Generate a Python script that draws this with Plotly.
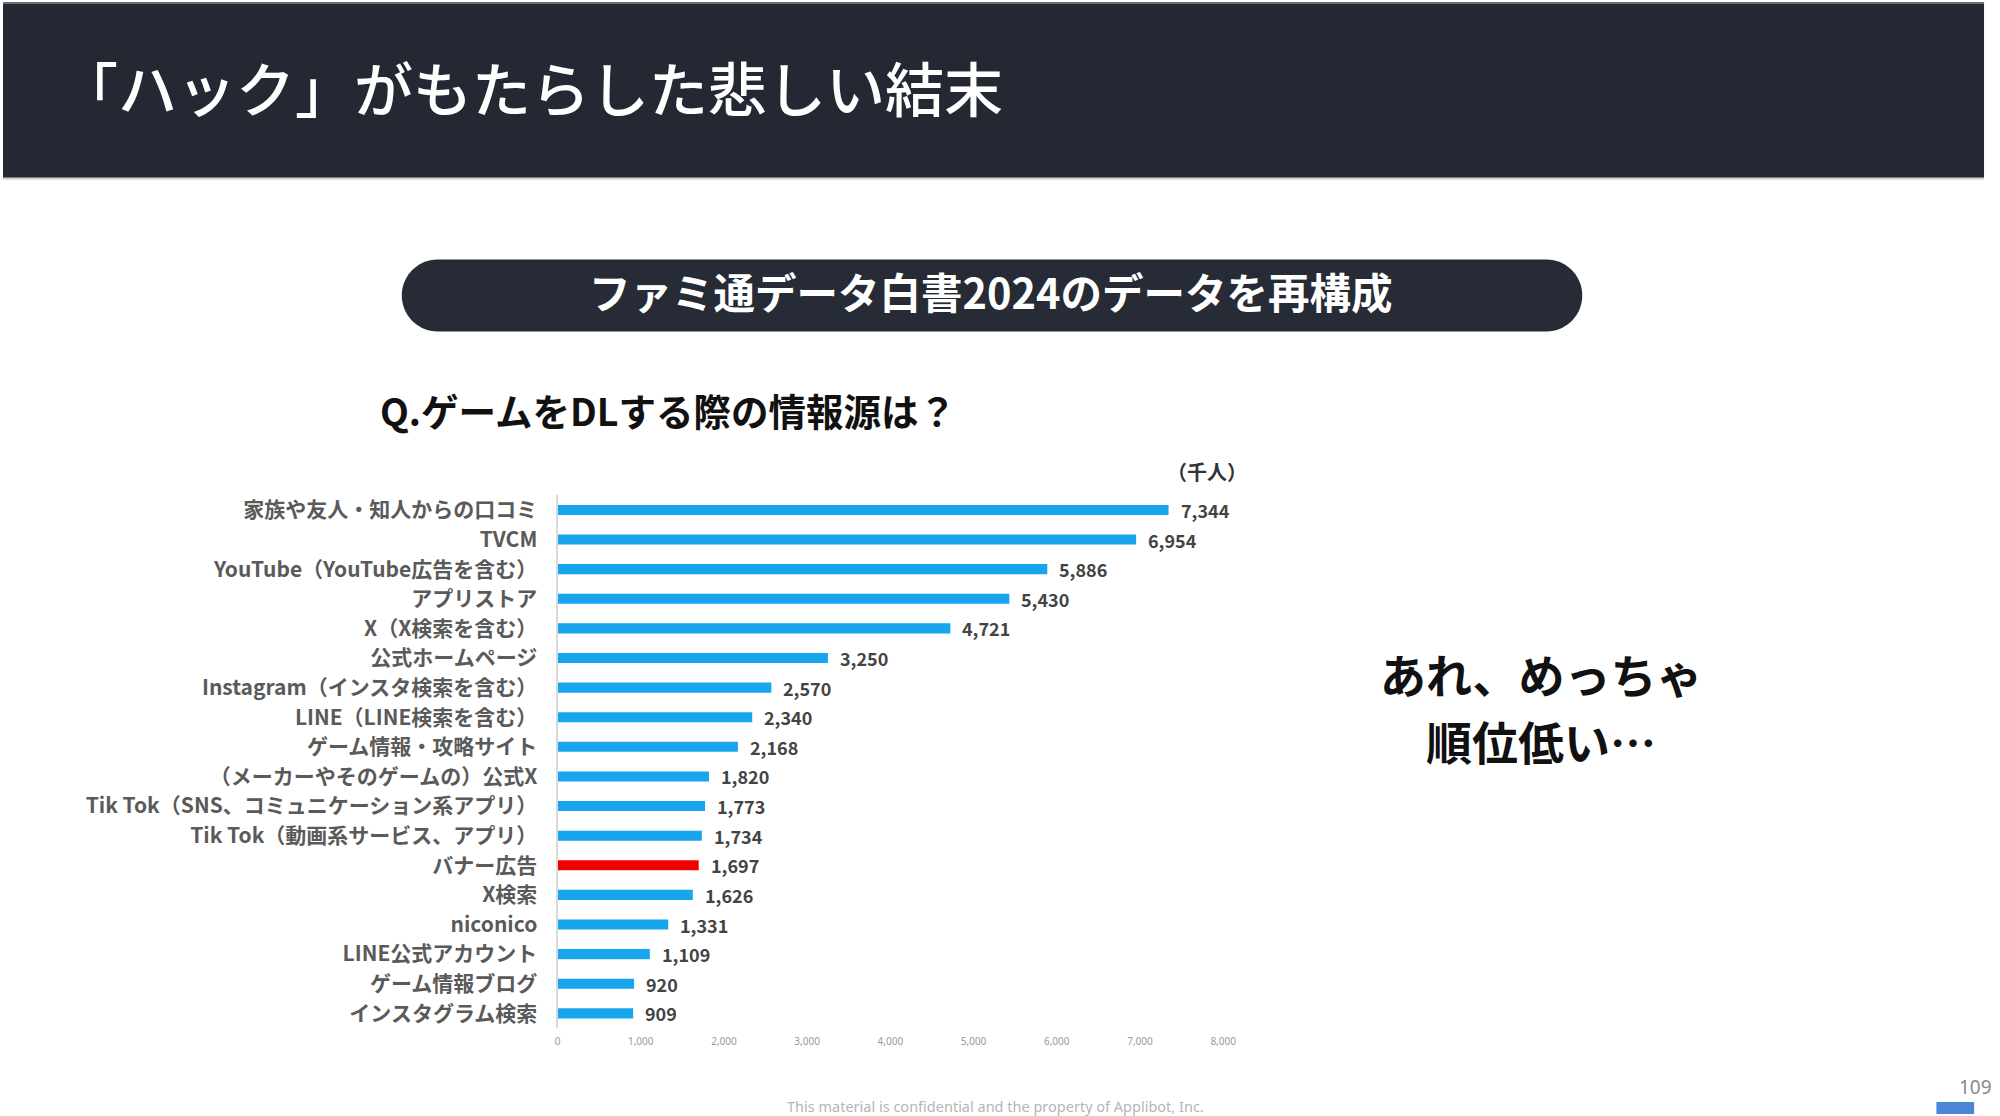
import math
import plotly.graph_objects as go

# ---------------- data ----------------
categories = [
    "家族や友人・知人からの口コミ",
    "TVCM",
    "YouTube（YouTube広告を含む）",
    "アプリストア",
    "X（X検索を含む）",
    "公式ホームページ",
    "Instagram（インスタ検索を含む）",
    "LINE（LINE検索を含む）",
    "ゲーム情報・攻略サイト",
    "（メーカーやそのゲームの）公式X",
    "Tik Tok（SNS、コミュニケーション系アプリ）",
    "Tik Tok（動画系サービス、アプリ）",
    "バナー広告",
    "X検索",
    "niconico",
    "LINE公式アカウント",
    "ゲーム情報ブログ",
    "インスタグラム検索",
]
values = [7344, 6954, 5886, 5430, 4721, 3250, 2570, 2340, 2168,
          1820, 1773, 1734, 1697, 1626, 1331, 1109, 920, 909]
highlight = "バナー広告"
x_ticks = [0, 1000, 2000, 3000, 4000, 5000, 6000, 7000, 8000]

header_title = "「ハック」がもたらした悲しい結末"
pill_title = "ファミ通データ白書2024のデータを再構成"
question = "Q.ゲームをDLする際の情報源は？"
unit_label = "（千人）"
comment_lines = ["あれ、めっちゃ", "順位低い…"]
footer = "This material is confidential and the property of Applibot, Inc."
page_no = "109"

# ---------------- style ----------------
W, H = 2000, 1116
JP = "Noto Sans CJK JP"
BLUE = "#17a6ed"
RED = "#f20000"
DARK = "#232833"


def px(x):
    return x / W


def py(y):
    return 1 - y / H


bar_colors = [RED if c == highlight else BLUE for c in categories]

fig = go.Figure()
fig.add_trace(go.Bar(
    x=values, y=categories, orientation="h",
    marker=dict(color=bar_colors, line=dict(width=0)),
    hoverinfo="skip", showlegend=False,
))

annotations = []
# value labels
for c, v in zip(categories, values):
    annotations.append(dict(
        x=v, y=c, xref="x", yref="y", text=f"{v:,}", showarrow=False,
        xanchor="left", yanchor="middle", xshift=10,
        font=dict(family=JP, size=18, color="#444444", weight="bold"),
    ))

# texts
annotations += [
    dict(x=px(54), y=py(85), xref="paper", yref="paper", text=header_title,
         showarrow=False, xanchor="left", yanchor="middle",
         font=dict(family=JP, size=59, color="white", weight=500)),
    dict(x=px(995), y=py(290), xref="paper", yref="paper", text=pill_title,
         showarrow=False, xanchor="center", yanchor="middle",
         font=dict(family=JP, size=41.5, color="white", weight="bold")),
    dict(x=px(378), y=py(408), xref="paper", yref="paper", text=question,
         showarrow=False, xanchor="left", yanchor="middle",
         font=dict(family=JP, size=37.5, color="#111111", weight="bold")),
    dict(x=px(1256), y=py(470), xref="paper", yref="paper", text=unit_label,
         showarrow=False, xanchor="right", yanchor="middle",
         font=dict(family=JP, size=20, color="#333333", weight="bold")),
    dict(x=px(1550), y=py(672), xref="paper", yref="paper", text=comment_lines[0],
         showarrow=False, xanchor="center", yanchor="middle",
         font=dict(family=JP, size=46, color="#111111", weight="bold")),
    dict(x=px(1550), y=py(739), xref="paper", yref="paper", text=comment_lines[1],
         showarrow=False, xanchor="center", yanchor="middle",
         font=dict(family=JP, size=46, color="#111111", weight="bold")),
    dict(x=px(1000), y=py(1106), xref="paper", yref="paper", text=footer,
         showarrow=False, xanchor="center", yanchor="middle",
         font=dict(family="Noto Sans", size=14.5, color="#b5b5b5")),
    dict(x=px(1970), y=py(1087), xref="paper", yref="paper", text=page_no,
         showarrow=False, xanchor="left", yanchor="middle",
         font=dict(family="Noto Sans", size=19, color="#8a8a8a")),
]

# pill shape path (pixel coords converted to paper)
x0, x1, y0, y1 = 402, 1592, 258, 330
r = (y1 - y0) / 2
cy = (y0 + y1) / 2
pts = []
for i in range(0, 41):
    a = -math.pi / 2 + math.pi * i / 40
    pts.append((x1 - r + r * math.cos(a), cy + r * math.sin(a)))
for i in range(0, 41):
    a = math.pi / 2 + math.pi * i / 40
    pts.append((x0 + r + r * math.cos(a), cy + r * math.sin(a)))
path = "M " + " L ".join(f"{px(a):.5f},{py(b):.5f}" for a, b in pts) + " Z"

shapes = [
    dict(type="rect", xref="paper", yref="paper", x0=0, x1=px(1997), y0=py(0), y1=py(176),
         fillcolor=DARK, line=dict(width=0), layer="below"),
    dict(type="line", xref="paper", yref="paper", x0=0, x1=px(1997), y0=py(1), y1=py(1),
         line=dict(color="#6b6f75", width=2)),
    dict(type="line", xref="paper", yref="paper", x0=0, x1=px(1997), y0=py(177), y1=py(177),
         line=dict(color="#d0d2d6", width=2)),
    dict(type="path", xref="paper", yref="paper", path=path,
         fillcolor="#262b36", line=dict(width=0), layer="below"),
    dict(type="rect", xref="paper", yref="paper", x0=px(1949), x1=px(1987),
         y0=py(1102), y1=py(1114),
         fillcolor="#4a86d8", line=dict(width=0)),
]

fig.update_layout(
    width=W, height=H,
    margin=dict(l=0, r=0, t=0, b=0),
    paper_bgcolor="white", plot_bgcolor="rgba(0,0,0,0)",
    bargap=0.66,
    showlegend=False,
    xaxis=dict(
        domain=[px(559), px(1230)], range=[0, 8000],
        tickvals=x_ticks, tickformat=",d",
        showgrid=False, zeroline=False, showline=False, ticks="",
        ticklabelstandoff=6,
        tickfont=dict(family="Noto Sans", size=10, color="#9a9a9a"),
        fixedrange=True,
    ),
    yaxis=dict(
        domain=[py(1028), py(494)], range=[17.5, -0.5],
        categoryorder="array", categoryarray=categories,
        showgrid=False, zeroline=False,
        showline=True, linecolor="#d9d9d9", linewidth=2,
        ticks="", ticklabelstandoff=14,
        tickfont=dict(family=JP, size=21, color="#5a5a5a", weight="bold"),
        fixedrange=True,
    ),
    shapes=shapes,
    annotations=annotations,
)

fig.write_html("out.html")
